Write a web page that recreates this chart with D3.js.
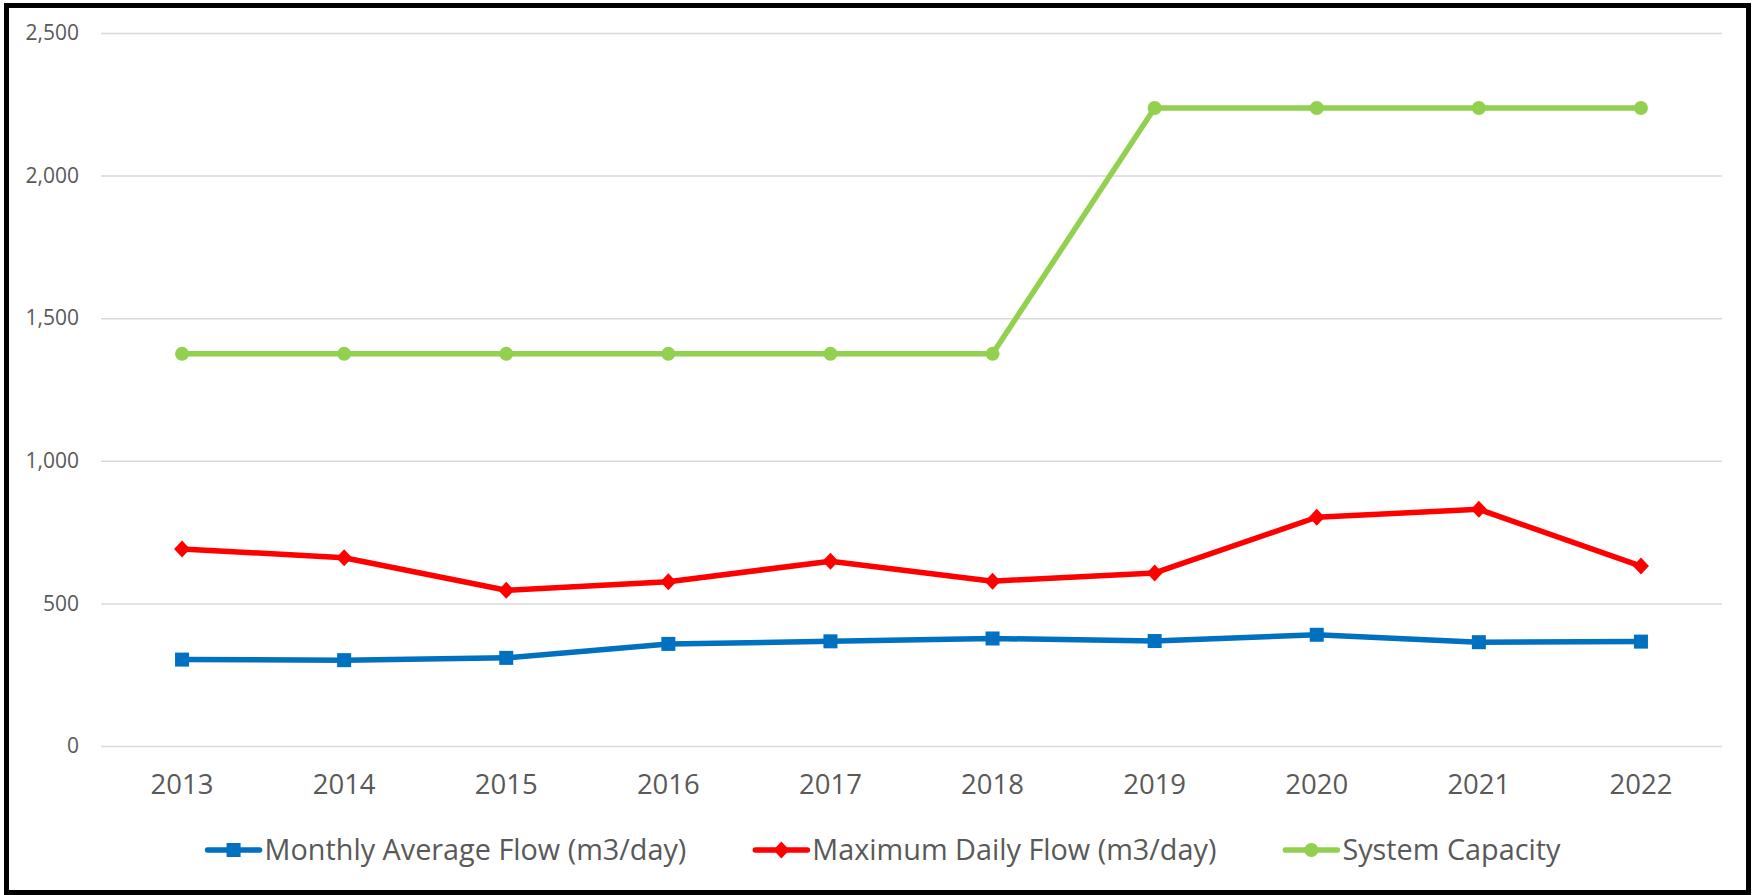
<!DOCTYPE html>
<html>
<head>
<meta charset="utf-8">
<script src="https://cdn.jsdelivr.net/npm/d3@7"></script>
<style>
  html, body { margin: 0; padding: 0; background: #fff; }
  svg { display: block; }
  text { font-family: "Open Sans", "Noto Sans", sans-serif; fill: #595959; }
</style>
</head>
<body>
<svg id="chart" width="1753" height="895"></svg>
<script>
const years = ["2013","2014","2015","2016","2017","2018","2019","2020","2021","2022"];
const monthlyAverage = [303, 301, 309, 358, 367, 377, 368, 390, 364, 366];
const maximumDaily = [691, 660, 546, 576, 648, 578, 607, 802, 830, 631];
const systemCapacity = [1375, 1375, 1375, 1375, 1375, 1375, 2237, 2237, 2237, 2237];
const yTicks = [0, 500, 1000, 1500, 2000, 2500];
const seriesNames = ["Monthly Average Flow (m3/day)", "Maximum Daily Flow (m3/day)", "System Capacity"];

const series = [
  { name: seriesNames[0], values: monthlyAverage, color: "#0070C0", marker: "square" },
  { name: seriesNames[1], values: maximumDaily, color: "#FF0000", marker: "diamond" },
  { name: seriesNames[2], values: systemCapacity, color: "#92D050", marker: "circle" }
];

const svg = d3.select("#chart");
const W = 1753, H = 895;
const plot = { left: 101, right: 1722, top: 33, bottom: 746 };

const x = d3.scaleBand().domain(years).range([plot.left, plot.right]);
const y = d3.scaleLinear().domain([0, 2500]).range([plot.bottom, plot.top]);
const cx = d => x(d) + x.bandwidth() / 2;

svg.append("rect").attr("x", 0).attr("y", 0).attr("width", W).attr("height", H).attr("fill", "#fff");

const yAxis = d3.axisLeft(y).tickValues(yTicks).tickFormat(d3.format(",")).tickSize(-(plot.right - plot.left)).tickPadding(22);
const gy = svg.append("g").attr("transform", `translate(${plot.left},0)`).call(yAxis);
gy.select(".domain").remove();
gy.selectAll(".tick line").attr("stroke", "#D9D9D9").attr("stroke-width", 1.5);
gy.selectAll(".tick text").attr("font-size", 21).attr("fill", "#595959")
  .attr("font-family", "'Open Sans', sans-serif");

const xAxis = d3.axisBottom(x).tickSize(0).tickPadding(28);
const gx = svg.append("g").attr("transform", `translate(0,${plot.bottom})`).call(xAxis);
gx.select(".domain").remove();
gx.selectAll(".tick text").attr("font-size", 27.5).attr("fill", "#595959")
  .attr("font-family", "'Open Sans', sans-serif");

function drawMarker(g, type, color, px, py) {
  if (type === "square") {
    g.append("rect").attr("x", px - 7).attr("y", py - 7).attr("width", 14).attr("height", 14).attr("fill", color);
  } else if (type === "diamond") {
    g.append("path").attr("d", `M${px},${py-8.5}L${px+8},${py}L${px},${py+8.5}L${px-8},${py}Z`).attr("fill", color);
  } else {
    g.append("circle").attr("cx", px).attr("cy", py).attr("r", 7).attr("fill", color);
  }
}

const line = d3.line().x((d, i) => cx(years[i])).y(d => y(d));

[2, 1, 0].forEach(k => {
  const s = series[k];
  const g = svg.append("g");
  g.append("path").attr("d", line(s.values)).attr("fill", "none")
    .attr("stroke", s.color).attr("stroke-width", 5.5).attr("stroke-linejoin", "round").attr("stroke-linecap", "round");
  s.values.forEach((v, i) => drawMarker(g, s.marker, s.color, cx(years[i]), y(v)));
});

const legend = svg.append("g");
const legendY = 850;
const symW = 56, symGap = 3, itemGap = 67;
const items = series.map(s => {
  const g = legend.append("g");
  const t = g.append("text").attr("x", symW + symGap).attr("y", legendY).attr("dy", "0.35em")
    .attr("font-size", 28.8).text(s.name);
  g.append("line").attr("x1", 2).attr("x2", symW - 2).attr("y1", legendY).attr("y2", legendY)
    .attr("stroke", s.color).attr("stroke-width", 5.5).attr("stroke-linecap", "round");
  drawMarker(g, s.marker, s.color, symW / 2, legendY);
  return { g, w: symW + symGap + t.node().getComputedTextLength() };
});
const totalW = d3.sum(items, d => d.w) + itemGap * (items.length - 1);
let startX = 883 - totalW / 2;
items.forEach(it => { it.g.attr("transform", `translate(${startX},0)`); startX += it.w + itemGap; });

svg.append("rect").attr("x", 6.5).attr("y", 5.5).attr("width", 1742).attr("height", 887)
  .attr("fill", "none").attr("stroke", "#000").attr("stroke-width", 5);
</script>
</body>
</html>
